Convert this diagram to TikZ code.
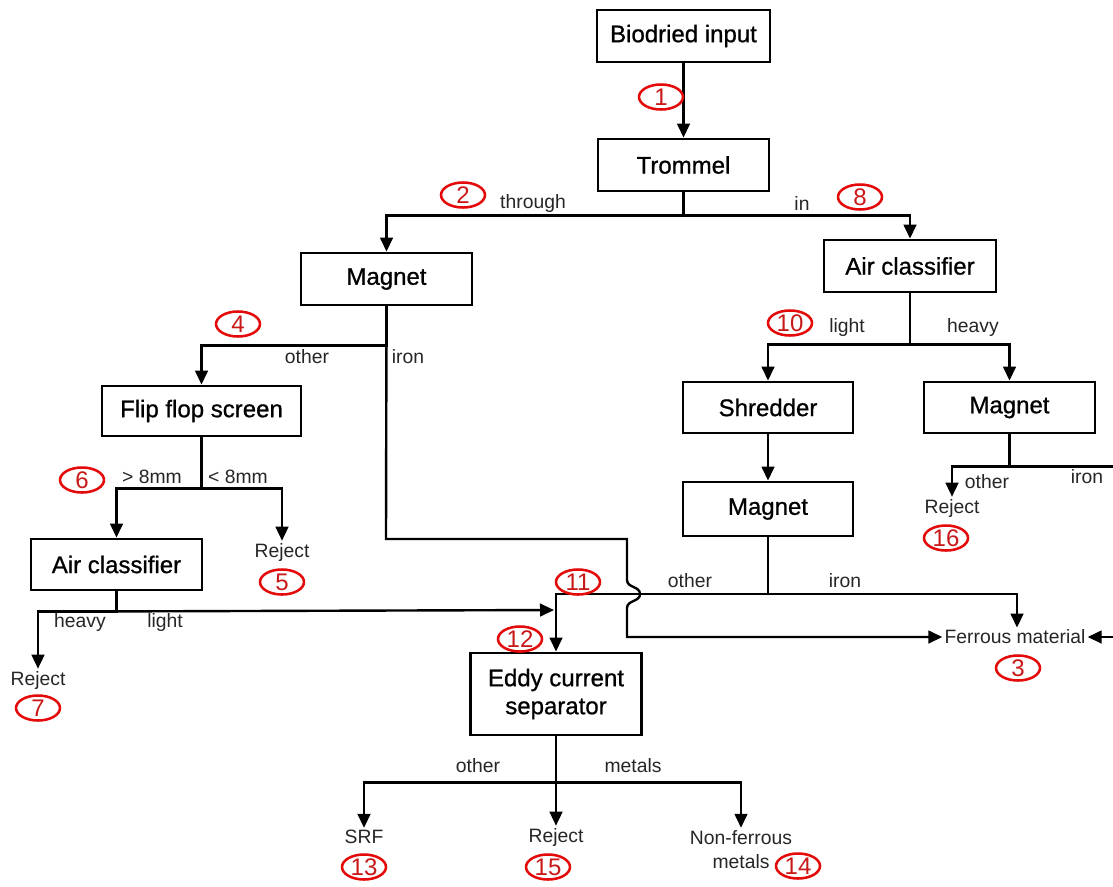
\documentclass[tikz,border=0pt]{standalone}
\usepackage{fontspec}
\setmainfont{Liberation Sans}
\newfontfamily\boxfont[FakeBold=0.8]{Liberation Sans}
\usetikzlibrary{arrows.meta,shapes.geometric}
\definecolor{numtext}{RGB}{200,24,24}
\definecolor{numring}{RGB}{228,10,10}
\tikzset{
  box/.style={draw=black,line width=2.1pt,rectangle,inner sep=0pt,font=\boxfont\fontsize{18}{21}\selectfont,align=center},
  lbl/.style={inner sep=0pt,font=\fontsize{14.5}{17}\selectfont,text=black!85},
  term/.style={inner sep=1.5pt,font=\fontsize{14.5}{18.5}\selectfont,align=center,text=black!85},
  num/.style={ellipse,draw=numring,line width=1.9pt,text=numtext,inner sep=0pt,minimum width=44*0.75pt,minimum height=25*0.75pt,font=\fontsize{18}{18}\selectfont},
  ln/.style={line width=1.8pt,black},
  arr/.style={ln,-{Triangle[length=10.5pt,width=9.5pt]}},
}
\begin{document}
\begin{tikzpicture}[x=0.75pt,y=-0.75pt]
\fill[white] (0,0) rectangle (1113,886);
\useasboundingbox (0,0) rectangle (1113,886);

% boxes
\node[box,minimum width=173*0.75pt,minimum height=52*0.75pt] (bio) at (683.5,36) {Biodried input};
\node[box,minimum width=171*0.75pt,minimum height=52*0.75pt] (trommel) at (683.5,165) {Trommel};
\node[box,minimum width=171*0.75pt,minimum height=52*0.75pt] (magL) at (386.5,279) {Magnet};
\node[box,minimum width=172*0.75pt,minimum height=52*0.75pt] (airR) at (910,266) {Air classifier};
\node[box,minimum width=199*0.75pt,minimum height=50*0.75pt] (flip) at (201.5,411) {Flip flop screen};
\node[box,minimum width=170*0.75pt,minimum height=51*0.75pt] (shred) at (768,407.5) {Shredder};
\node[box,minimum width=171*0.75pt,minimum height=51*0.75pt] (magR) at (1009.5,407.5) {Magnet};
\node[box,minimum width=170*0.75pt,minimum height=54*0.75pt] (magM) at (768,509) {Magnet};
\node[box,minimum width=171*0.75pt,minimum height=51*0.75pt] (airL) at (116.5,564.5) {Air classifier};
\node[box,minimum width=171*0.75pt,minimum height=82*0.75pt] (eddy) at (556,694) {Eddy current\\separator};

% terminal texts
\node[term] (rej5) at (282,552) {Reject};
\node[term] (rej7) at (38,680) {Reject};
\node[term] (rej16) at (952,508) {Reject};
\node[term] (ferrous) at (1015,637) {Ferrous material};
\node[term] (srf) at (364,837) {SRF};
\node[term] (rej15) at (556,837) {Reject};
\node[term] (nonfer) at (741,849.5) {Non-ferrous\\metals};

% junction coordinates
\coordinate (j11) at (556,594);
\coordinate (jfe) at (1017,594);
\coordinate (jlight) at (554,610);
\coordinate (hopA) at (627,580);
\coordinate (hopB) at (627,608);
\coordinate (offR) at (1135,637);

% connectors
\draw[arr] (bio) -- (trommel);
\draw[arr] (trommel.south) -- ++(0,23) -| (magL.north);
\draw[arr] (trommel.south) -- ++(0,23) -| (airR.north);
\draw[arr] (magL.south) -- ++(0,39) -| (flip.north);
\draw[arr] (magL.south) -- (386,539) -| (hopA)
   .. controls (627,588) and (640,586) .. (640,594)
   .. controls (640,602) and (627,600) .. (hopB)
   |- (ferrous.west);
\draw[arr] (flip.south) -- ++(0,51) -| (airL.north);
\draw[arr] (flip.south) -- ++(0,51) -| (rej5.north);
\draw[arr] (airL.south) -- ++(0,20) -| (rej7.north);
\draw[arr] (airL.south) -- ++(0,20) -- (jlight);
\draw[arr] (airR.south) -- ++(0,51) -| (shred.north);
\draw[arr] (airR.south) -- ++(0,51) -| (magR.north);
\draw[arr] (shred) -- (magM);
\draw[arr] (magM.south) |- (j11) -- (eddy.north);
\draw[arr] (magM.south) |- (jfe) -- (jfe |- ferrous.north);
\draw[arr] (magR.south) -- ++(0,32) -| (rej16.north);
\draw[arr] (magR.south) -- ++(0,32) -| (offR) -- (ferrous.east);
\draw[arr] (eddy.south) -- ++(0,46) -| (srf.north);
\draw[arr] (eddy.south) -- ++(0,46) -| (nonfer.north);
\draw[arr] (eddy.south) -- (rej15.north);

% branch labels
\node[lbl] (lThrough) at (533,203) {through};
\node[lbl] (lIn) at (802,203) {in};
\node[lbl] (lOther1) at (307,357) {other};
\node[lbl] (lIron1) at (408,357) {iron};
\node[lbl] (lGt) at (152,477) {> 8mm};
\node[lbl] (lLt) at (238,477) {< 8mm};
\node[lbl] (lLight1) at (847,327) {light};
\node[lbl] (lHeavy1) at (973,327) {heavy};
\node[lbl] (lOther2) at (987,482) {other};
\node[lbl] (lIron2) at (1087,477) {iron};
\node[lbl] (lHeavy2) at (80,622) {heavy};
\node[lbl] (lLight2) at (165,622) {light};
\node[lbl] (lOther3) at (690,581) {other};
\node[lbl] (lIron3) at (845,581) {iron};
\node[lbl] (lOther4) at (478,766) {other};
\node[lbl] (lMetals) at (633,766) {metals};

% numbered markers
\node[num] (n1) at (661,97) {1};
\node[num] (n2) at (463,195) {2};
\node[num] (n8) at (860,197) {8};
\node[num] (n4) at (238,324) {4};
\node[num] (n10) at (790,323) {10};
\node[num] (n6) at (82,480) {6};
\node[num] (n5) at (282,582) {5};
\node[num] (n16) at (946,538) {16};
\node[num] (n7) at (38,708) {7};
\node[num] (n11) at (578,582) {11};
\node[num] (n12) at (520,639) {12};
\node[num] (n3) at (1018,668) {3};
\node[num] (n13) at (364,867) {13};
\node[num] (n15) at (548,867) {15};
\node[num] (n14) at (798,866) {14};
\end{tikzpicture}
\end{document}
